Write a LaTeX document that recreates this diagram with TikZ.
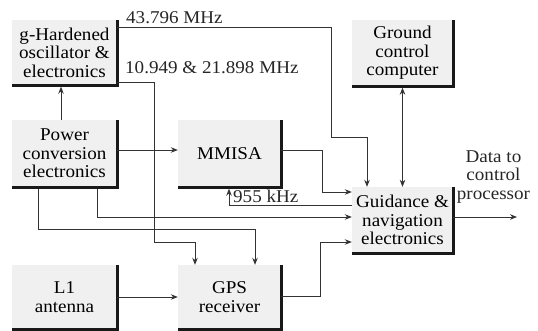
\documentclass[tikz,border=0pt]{standalone}
\usepackage{fontspec}
\setmainfont{Liberation Serif}[FakeStretch=1.06]
\usetikzlibrary{arrows.meta}
\begin{document}
\begin{tikzpicture}[x=1pt,y=-1pt,
  blk/.style={fill=black!6, minimum width=104pt, minimum height=66pt, align=center, inner sep=0pt, font=\fontsize{18}{18.5}\selectfont},
  conn/.style={line width=0.9pt, draw=black!80, -{Stealth[length=7pt,width=5.5pt]}},
  plain/.style={line width=0.9pt, draw=black!80},
  lbl/.style={font=\fontsize{18}{18.5}\selectfont, inner sep=0pt, text=black!85},
  shadowline/.style={line width=3pt, draw=black!90}]
\useasboundingbox (0,0) rectangle (538,331);
% blocks
\node[blk, minimum width=105pt, minimum height=65pt] (osc) at (64.5,52.5) {g-Hardened\\oscillator \&\\electronics};
\node[blk, minimum width=105pt, minimum height=67pt] (power) at (64.5,153.5) {Power\\conversion\\electronics};
\node[blk, minimum width=101pt] (ground) at (402.5,53) {Ground\\control\\computer};
\node[blk, minimum width=103pt, minimum height=67pt] (mmisa) at (229.5,153.5) {MMISA};
\node[blk, minimum width=101pt] (guid) at (402.5,220) {Guidance \&\\navigation\\electronics};
\node[blk, minimum width=105pt, minimum height=64pt] (l1) at (64.5,297) {L1\\antenna};
\node[blk, minimum width=103pt, minimum height=64pt] (gps) at (229.5,297) {GPS\\receiver};
\foreach \n in {osc,power,ground,mmisa,guid,l1,gps}
  \draw[shadowline] (\n.north east) -- (\n.south east) -- (\n.south west);
% connectors
\draw[conn] (osc.east |- 0,27) -- (331,27) -- (331,137) -- (367,137) -- (guid.north -| 367,0);
\node[lbl, anchor=base west] (f1) at (126,24) {43.796 MHz};
\draw[conn] (osc.east |- 0,82) -- (154,82) -- (154,242) -- (195,242) -- (gps.north -| 195,0);
\node[lbl, anchor=base west] (f2) at (125,74) {10.949 \& 21.898 MHz};
\draw[conn, {Stealth[length=7pt,width=5.5pt]}-{Stealth[length=7pt,width=5.5pt]}, shorten <=1.5pt] (ground.south) -- (guid.north);
\draw[conn, shorten >=1.5pt] (power.north -| 61,0) -- (osc.south -| 61,0);
\draw[conn] (power.east |- 0,150) -- (mmisa.west |- 0,150);
\draw[conn, shorten <=1.5pt] (power.south -| 38,0) -- (38,229) -- (255,229) -- (gps.north -| 255,0);
\draw[conn, shorten <=1.5pt] (power.south -| 97,0) -- (97,217) -- (guid.west |- 0,217);
\draw[conn] (mmisa.east |- 0,150) -- (322,150) -- (322,192) -- (guid.west |- 0,192);
\draw[conn, shorten >=1.5pt] (guid.west |- 0,205) -- (229,205) -- (mmisa.south -| 229,0);
\node[lbl, anchor=base west] (f3) at (233,203) {955 kHz};
\draw[conn] (gps.east |- 0,296) -- (320,296) -- (320,242) -- (guid.west |- 0,242);
\draw[conn] (l1.east |- 0,297) -- (gps.west |- 0,297);
\coordinate (dataend) at (517,217);
\draw[conn] (guid.east |- 0,217) -- (dataend);
\node[lbl, align=center] (data) at (493.5,177) {Data to\\control\\processor};
\end{tikzpicture}
\end{document}
